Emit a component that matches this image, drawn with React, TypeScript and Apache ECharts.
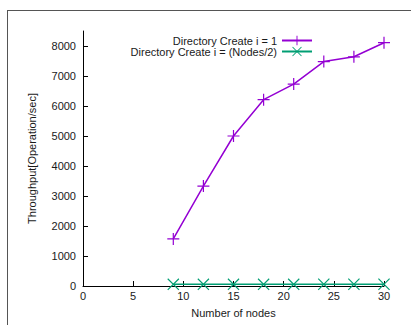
import React, { useEffect, useRef } from "react";
import * as echarts from "echarts";

// Number of nodes in the cluster
const nodes = [9, 12, 15, 18, 21, 24, 27, 30];
// Directory create throughput with i = 1
const createSingle = [1570, 3330, 5000, 6210, 6730, 7480, 7640, 8110];
// Directory create throughput with i = Nodes/2
const createHalf = [55, 55, 55, 55, 55, 58, 58, 58];
const yTicks = [0, 1000, 2000, 3000, 4000, 5000, 6000, 7000, 8000];
const xTicks = [0, 5, 10, 15, 20, 25, 30];

const PLUS = "path://M0,7.2H16V8.8H0Z M7.2,0H8.8V16H7.2Z";
const CROSS =
  "path://M0,1.1L1.1,0L16,14.9L14.9,16Z M14.9,0L16,1.1L1.1,16L0,14.9Z";

const FONT = "'Liberation Sans', Arial, Helvetica, sans-serif";
const TEXT = "#1a1a1a";

export default function App() {
  const ref = useRef<HTMLDivElement>(null);

  useEffect(() => {
    if (!ref.current) return;
    const chart = echarts.init(ref.current, null, { renderer: "svg" });
    const pairs = (ys: number[]) => nodes.map((x, i) => [x, ys[i]]);
    const legendBase = {
      orient: "vertical" as const,
      align: "right" as const,
      right: 98,
      itemWidth: 30,
      itemHeight: 12,
      itemGap: 0,
      padding: 0,
      textStyle: { fontFamily: FONT, fontSize: 11, color: TEXT },
    };

    chart.setOption({
      animation: false,
      grid: { left: 83, right: 27, top: 31, bottom: 39 },
      legend: [
        { ...legendBase, top: 35, data: ["Directory Create i = 1"] },
        { ...legendBase, top: 46, data: ["Directory Create i = (Nodes/2)"] },
      ],
      xAxis: {
        type: "value",
        min: 0,
        max: 30,
        interval: 5,
        name: "Number of nodes",
        nameLocation: "middle",
        nameGap: 21,
        nameTextStyle: { fontFamily: FONT, fontSize: 11, color: TEXT },
        axisLine: { lineStyle: { color: "#000", width: 1 } },
        axisTick: {
          inside: true,
          length: 5,
          customValues: xTicks,
          lineStyle: { color: "#000" },
        },
        axisLabel: {
          customValues: xTicks,
          formatter: (v: number) => String(v),
          fontFamily: FONT,
          fontSize: 11,
          color: TEXT,
          margin: 4,
        },
        splitLine: { show: false },
      },
      yAxis: {
        type: "value",
        min: 0,
        max: 8500,
        name: "Throughput[Operation/sec]",
        nameLocation: "middle",
        nameGap: 46,
        nameTextStyle: { fontFamily: FONT, fontSize: 11, color: TEXT },
        axisLine: { show: true, lineStyle: { color: "#000", width: 1 } },
        axisTick: {
          show: true,
          inside: true,
          length: 5,
          customValues: yTicks,
          lineStyle: { color: "#000" },
        },
        axisLabel: {
          customValues: yTicks,
          formatter: (v: number) => String(v),
          fontFamily: FONT,
          fontSize: 11,
          color: TEXT,
          margin: 7,
        },
        splitLine: { show: false },
      },
      series: [
        {
          name: "Directory Create i = 1",
          type: "line",
          data: pairs(createSingle),
          symbol: PLUS,
          symbolSize: 12,
          color: "#9400d3",
          lineStyle: { width: 1.5, color: "#9400d3" },
          itemStyle: { color: "#9400d3" },
        },
        {
          name: "Directory Create i = (Nodes/2)",
          type: "line",
          data: pairs(createHalf),
          symbol: CROSS,
          symbolSize: 12,
          color: "#009e73",
          lineStyle: { width: 1.5, color: "#009e73" },
          itemStyle: { color: "#009e73" },
        },
      ],
    });

    return () => chart.dispose();
  }, []);

  return (
    <div
      style={{
        position: "fixed",
        left: 0,
        top: 0,
        width: 411,
        height: 325,
        background: "#fff",
      }}
    >
      {/* frame lines along the top and left edges */}
      <div
        style={{
          position: "absolute",
          left: 7,
          top: 10,
          right: 0,
          bottom: 0,
          borderTop: "1px solid #555",
          borderLeft: "1px solid #555",
        }}
      />
      <div
        ref={ref}
        style={{ position: "absolute", left: 0, top: 0, width: 411, height: 325 }}
      />
    </div>
  );
}
